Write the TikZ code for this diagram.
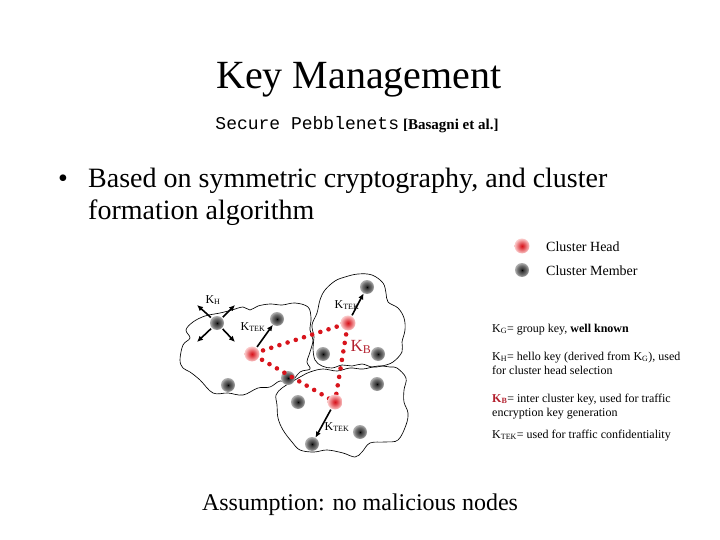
\documentclass[tikz,border=0pt]{standalone}
\usepackage{fontspec}
\setmainfont{Liberation Serif}
\setmonofont{Liberation Mono}
\usetikzlibrary{arrows.meta}
\definecolor{kmred}{HTML}{D8141C}
\definecolor{kmdark}{HTML}{B3202E}
\definecolor{kmpink}{HTML}{F7A8A8}
\pgfdeclareradialshading{headglow}{\pgfpoint{0bp}{0bp}}{color(0bp)=(kmred); color(6bp)=(kmred!85); color(25bp)=(kmpink!60); color(50bp)=(kmpink!60)}
\pgfdeclareradialshading{memberglow}{\pgfpoint{0bp}{0bp}}{color(0bp)=(black); color(5bp)=(black!78); color(17bp)=(black!55); color(25bp)=(black!30); color(50bp)=(black!30)}
\tikzset{
  head/.style={circle,inner sep=0pt,minimum size=15pt,shading=headglow},
  member/.style={circle,inner sep=0pt,minimum size=14pt,shading=memberglow},
  clusterline/.style={draw=black,line width=0.65pt},
  keyarrow/.style={-{Latex[length=6pt,width=5.5pt]},line width=1.6pt,shorten <=1pt},
  bkey/.style={draw=kmred,line width=4.6pt,line cap=round,dash pattern=on 0pt off 8.6pt,
               shorten >=3pt,shorten <=3pt},
  klabel/.style={font=\fontsize{12}{14}\selectfont,inner sep=0pt},
  defn/.style={anchor=base west,align=left,font=\fontsize{12}{14}\selectfont,inner sep=0pt},
  legend/.style={anchor=west,font=\fontsize{14}{16}\selectfont,inner sep=0pt},
}
\newcommand{\keysub}[1]{K\textsubscript{#1}}

\begin{document}
\begin{tikzpicture}[x=1pt,y=-1pt]
\useasboundingbox (0,0) rectangle (720,540);
% title block
\node[font=\fontsize{40}{44}\selectfont,anchor=base] (title) at (359,89) {Key Management};
\node[anchor=base] (sub) at (357,130) {\fontsize{18}{20}\selectfont\ttfamily Secure Pebblenets\hspace{4pt}%
  \fontsize{15}{18}\selectfont\rmfamily\bfseries[Basagni et al.]};
\node[font=\fontsize{28}{32}\selectfont,anchor=base west,inner sep=0pt] (dot) at (58,188) {•};
\node[font=\fontsize{28}{32}\selectfont,anchor=base west,inner sep=0pt] (based) at (88,188)
  {Based on symmetric cryptography, and cluster};
\node[font=\fontsize{28}{32}\selectfont,anchor=base west,inner sep=0pt] (formation) at (88,220)
  {formation algorithm};

% legend
\node[head] (lhead) at (522,246) {};
\node[member] (lmember) at (522,270) {};
\node[legend] (lheadtxt) at (546,247) {Cluster Head};
\node[legend] (lmembertxt) at (546,271) {Cluster Member};

% clusters
\draw[clusterline] plot[smooth cycle,tension=0.6] coordinates {
  (180,360) (183,345) (190,338) (186,330) (193,322) (205,316) (220,313) (232,310)
  (243,307) (250,310) (258,306) (270,304) (282,305) (295,303) (308,307) (311,318)
  (310,330) (313,340) (310,352) (307,362) (310,369) (300,372) (290,383) (280,381)
  (270,387) (258,388) (243,395) (228,393) (213,393) (200,380) (190,372) (183,368)};
\draw[clusterline] plot[smooth cycle,tension=0.6] coordinates {
  (325,290) (335,281) (345,277) (358,274) (372,275) (383,283) (386,293) (388,302)
  (398,308) (404,318) (405,330) (402,342) (402,352) (393,362) (382,366) (372,367)
  (362,364) (352,366) (342,365) (332,368) (322,366) (315,360) (313,348) (314,337)
  (312,325) (317,313) (320,300)};
\draw[clusterline] plot[smooth cycle,tension=0.6] coordinates {
  (290,383) (300,377) (310,372) (323,369) (337,371) (350,368) (363,369) (378,366)
  (390,367) (397,368) (406,378) (404,390) (404,402) (408,413) (406,425) (398,440)
  (385,442) (370,443) (362,452) (355,457) (343,453) (327,450) (314,452) (300,450)
  (292,442) (283,430) (278,418) (277,405) (276,395) (282,388)};

% nodes
\node[member] (m1) at (217,323) {};
\node[member] (m2) at (277,319) {};
\node[member] (m3) at (228,385) {};
\node[member] (m4) at (288,378) {};
\node[member] (m5) at (367,287) {};
\node[member] (m6) at (323,354) {};
\node[member] (m7) at (378,354) {};
\node[member] (m8) at (298,402) {};
\node[member] (m9) at (377,384) {};
\node[member] (m10) at (360,432) {};
\node[member] (m11) at (312,444) {};

% inter cluster key
\draw[bkey] (252,354) -- (348,323);
\draw[bkey] (252,354) -- (335,402);
\draw[bkey] (348,323) -- (335,402);

\node[head] (h1) at (252,354) {};
\node[head] (h2) at (348,323) {};
\node[head] (h3) at (335,402) {};

% hello key
\coordinate (kh1) at (197,305);
\coordinate (kh2) at (235,305);
\coordinate (kh3) at (197,342);
\coordinate (kh4) at (235,342);
\foreach \k in {kh1,kh2,kh3,kh4}
  \draw[keyarrow] (m1) -- (\k);

% traffic keys
\draw[keyarrow] (h1) -- (m2);
\draw[keyarrow] (h2) -- (m5);
\draw[keyarrow] (h3) -- (m11);

\node[klabel] (khtxt) at (213,300) {\keysub{H}};
\node[klabel] (tek1) at (253,327) {\keysub{TEK}};
\node[klabel] (tek2) at (347,305) {\keysub{TEK}};
\node[klabel] (tek3) at (337,427) {\keysub{TEK}};
\node[klabel,font=\fontsize{17}{18}\selectfont,text=kmdark] (kbtxt) at (361,347) {\keysub{B}};

% key definitions
\node[defn] (defg) at (492,332) {\keysub{G}= group key, \textbf{well known}};
\node[defn] (defh) at (492,374) {\keysub{H}= hello key (derived from \keysub{G}), used\\for cluster head selection};
\node[defn] (defb) at (492,416) {\textcolor{kmdark}{\textbf{\keysub{B}}}= inter cluster key, used for traffic\\encryption key generation};
\node[defn] (deftek) at (492,438) {\keysub{TEK}= used for traffic confidentiality};

% assumption
\node[font=\fontsize{24}{28}\selectfont,anchor=base] (assume) at (360,510) {Assumption: no malicious nodes};
\end{tikzpicture}
\end{document}
